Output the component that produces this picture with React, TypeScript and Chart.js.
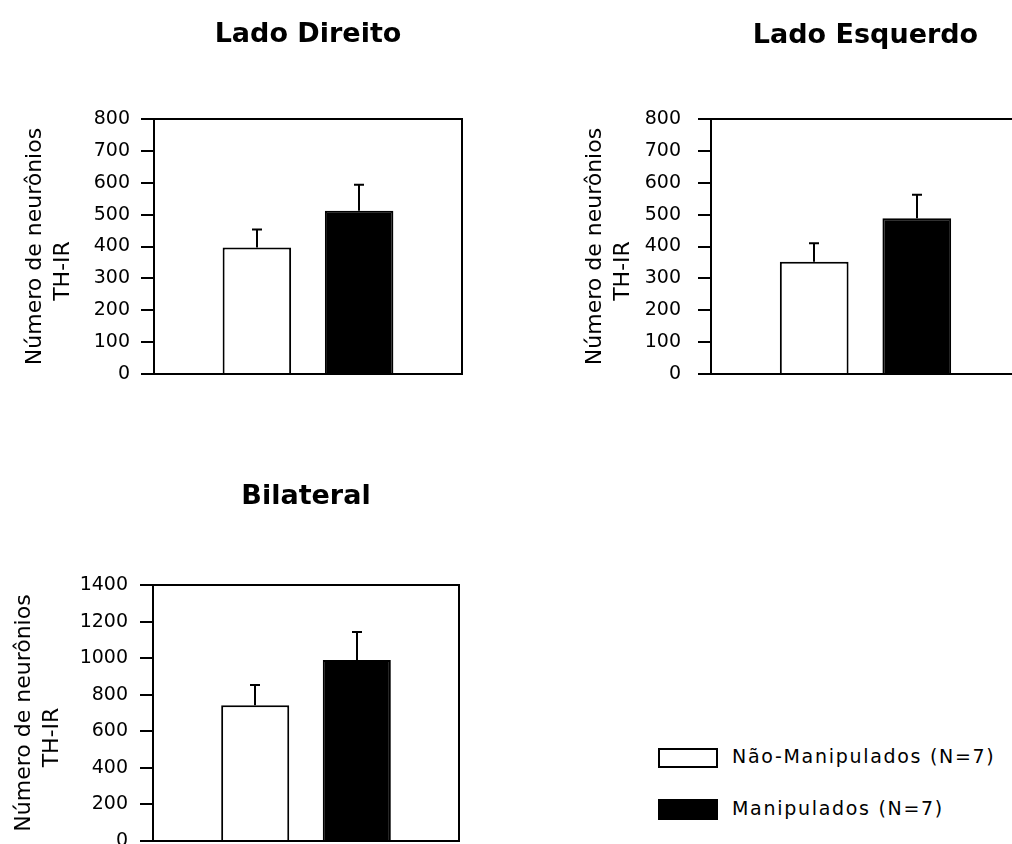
import React, { useEffect, useRef } from 'react';
import { Chart, registerables } from 'chart.js';

Chart.register(...registerables);

// ---------- data ----------
const categories = [''];
const groupLabels = ['Não-Manipulados (N=7)', 'Manipulados (N=7)'];
const panelTitles = ['Lado Direito', 'Lado Esquerdo', 'Bilateral'];
const yAxisTitle = ['Número de neurônios', 'TH-IR'];

const direitoMeans = [397, 512];
const direitoErrors = [56, 82];

const esquerdoMeans = [352, 489];
const esquerdoErrors = [58, 73];

const bilateralMeans = [743, 990];
const bilateralErrors = [110, 153];

const sideAxisMax = 800;
const sideAxisStep = 100;
const bilateralAxisMax = 1400;
const bilateralAxisStep = 200;

const barFills = ['#ffffff', '#000000'];

// ---------- styling / layout ----------
const FONT = "'DejaVu Sans', 'Liberation Sans', sans-serif";
const TITLE_SIZE = 27;
const TITLE_LH = 1.2;
const YT_SIZE = 22;
const YT_LH = 28;

type Layout = {
  left: number; top: number; w: number; h: number;
  area: { l: number; t: number; r: number; b: number };
  titleMid: number; yTitleMid: number; tickPad: number;
};

const framePlugin = {
  id: 'frame',
  afterDraw(chart: any) {
    const { ctx, chartArea } = chart;
    const { left, top, right, bottom } = chartArea;
    ctx.save();
    ctx.strokeStyle = '#000';
    ctx.lineWidth = 2;
    ctx.beginPath();
    ctx.moveTo(left, top);
    ctx.lineTo(right, top);
    ctx.lineTo(right, bottom);
    ctx.stroke();
    ctx.restore();
  },
};

const errorBarPlugin = {
  id: 'errorBars',
  afterDatasetsDraw(chart: any, _args: any, opts: any) {
    const errors: number[] = (opts && opts.errors) || [];
    const { ctx } = chart;
    const yScale = chart.scales.y;
    ctx.save();
    ctx.strokeStyle = '#000';
    ctx.lineWidth = 2;
    chart.data.datasets.forEach((ds: any, i: number) => {
      const meta = chart.getDatasetMeta(i);
      meta.data.forEach((el: any, j: number) => {
        const v = ds.data[j];
        const err = errors[i];
        const yTop = yScale.getPixelForValue(v + err);
        const x = Math.round(el.x);
        ctx.beginPath();
        ctx.moveTo(x, el.y);
        ctx.lineTo(x, yTop);
        ctx.moveTo(x - 5, yTop);
        ctx.lineTo(x + 5, yTop);
        ctx.stroke();
      });
    });
    ctx.restore();
  },
};

function Panel(props: {
  title: string; means: number[]; errors: number[]; max: number; step: number; layout: Layout;
}) {
  const ref = useRef<HTMLCanvasElement | null>(null);
  const { title, means, errors, max, step, layout } = props;

  useEffect(() => {
    if (!ref.current) return;
    const L = layout;
    const yAxisWidth = L.area.l - L.left;
    const titleBox = TITLE_SIZE * TITLE_LH;
    const titlePadTop = L.titleMid - L.top - titleBox / 2;
    const titlePadBottom = L.area.t - L.top - titlePadTop - titleBox;
    const yTitlePadTop = L.yTitleMid - L.left - YT_LH / 2;

    const chart = new Chart(ref.current, {
      type: 'bar',
      data: {
        labels: categories,
        datasets: groupLabels.map((lab, i) => ({
          label: lab,
          data: [means[i]],
          backgroundColor: barFills[i],
          borderColor: '#000',
          borderWidth: 2,
          borderSkipped: 'start',
          categoryPercentage: 0.664,
          barPercentage: 0.67,
        })),
      },
      options: {
        animation: false,
        responsive: false,
        devicePixelRatio: 1,
        events: [],
        layout: {
          padding: {
            left: 0,
            top: 0,
            right: L.left + L.w - L.area.r,
            bottom: L.top + L.h - L.area.b,
          },
        },
        plugins: {
          legend: { display: false },
          tooltip: { enabled: false },
          title: {
            display: true,
            text: title,
            fullSize: false,
            color: '#000',
            font: { family: FONT, size: TITLE_SIZE, weight: 'bold', lineHeight: TITLE_LH },
            padding: { top: titlePadTop, bottom: titlePadBottom },
          },
          errorBars: { errors },
        } as any,
        scales: {
          x: {
            type: 'category',
            display: true,
            ticks: { display: false },
            grid: { display: false },
            border: { display: true, color: '#000', width: 2 },
            afterFit: (s: any) => { s.height = 0; },
          },
          y: {
            type: 'linear',
            min: 0,
            max,
            afterFit: (s: any) => { s.width = yAxisWidth; },
            ticks: {
              stepSize: step,
              autoSkip: false,
              color: '#000',
              padding: L.tickPad,
              font: { family: FONT, size: 19 },
              callback: (v: any) => String(v),
            },
            grid: {
              display: true,
              drawOnChartArea: false,
              drawTicks: true,
              tickLength: 13,
              color: '#000',
              lineWidth: 2,
            },
            border: { display: true, color: '#000', width: 2 },
            title: {
              display: true,
              text: [yAxisTitle[0], yAxisTitle[1] + '       '],
              color: '#000',
              font: { family: FONT, size: YT_SIZE, lineHeight: YT_LH / YT_SIZE },
              padding: { top: yTitlePadTop, bottom: 0 },
            },
          },
        },
      } as any,
      plugins: [framePlugin, errorBarPlugin],
    });
    return () => chart.destroy();
  }, [title, means, errors, max, step, layout]);

  return (
    <canvas
      ref={ref}
      width={layout.w}
      height={layout.h}
      style={{ position: 'absolute', left: layout.left, top: layout.top, display: 'block' }}
    />
  );
}

const layoutDireito: Layout = {
  left: 0, top: 0, w: 480, h: 430,
  area: { l: 154, t: 119, r: 462, b: 374 },
  titleMid: 35, yTitleMid: 35, tickPad: 11,
};
const layoutEsquerdo: Layout = {
  left: 560, top: 0, w: 480, h: 430,
  area: { l: 711, t: 119, r: 1020, b: 374 },
  titleMid: 36, yTitleMid: 595, tickPad: 17,
};
const layoutBilateral: Layout = {
  left: 0, top: 450, w: 480, h: 450,
  area: { l: 153, t: 585, r: 459, b: 841 },
  titleMid: 497, yTitleMid: 24, tickPad: 12,
};

export default function App() {
  const legendText: React.CSSProperties = {
    position: 'absolute',
    left: 732,
    fontFamily: FONT,
    fontSize: 19,
    lineHeight: '22px',
    height: 22,
    letterSpacing: '1.7px',
    color: '#000',
    whiteSpace: 'nowrap',
  };
  return (
    <div
      style={{
        position: 'absolute', left: 0, top: 0, width: 1012, height: 844,
        overflow: 'hidden', background: '#fff',
      }}
    >
      <Panel title={panelTitles[0]} means={direitoMeans} errors={direitoErrors}
        max={sideAxisMax} step={sideAxisStep} layout={layoutDireito} />
      <Panel title={panelTitles[1]} means={esquerdoMeans} errors={esquerdoErrors}
        max={sideAxisMax} step={sideAxisStep} layout={layoutEsquerdo} />
      <Panel title={panelTitles[2]} means={bilateralMeans} errors={bilateralErrors}
        max={bilateralAxisMax} step={bilateralAxisStep} layout={layoutBilateral} />

      <div style={{
        position: 'absolute', left: 658, top: 748, width: 60, height: 20,
        boxSizing: 'border-box', border: '2px solid #000', background: barFills[0],
      }} />
      <div style={{ ...legendText, top: 745 }}>{groupLabels[0]}</div>
      <div style={{
        position: 'absolute', left: 658, top: 799, width: 60, height: 21,
        background: barFills[1],
      }} />
      <div style={{ ...legendText, top: 797 }}>{groupLabels[1]}</div>
    </div>
  );
}
